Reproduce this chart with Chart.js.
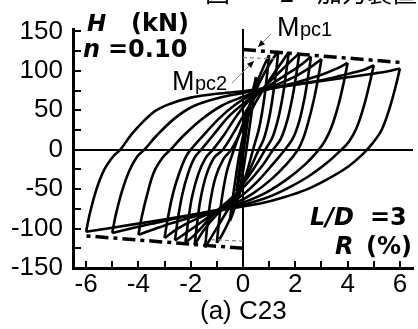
<!DOCTYPE html>
<html>
<head>
<meta charset="utf-8">
<script src="https://cdn.jsdelivr.net/npm/chart.js@4.4.1/dist/chart.umd.min.js"></script>
<style>
  html, body { margin: 0; padding: 0; background: #fff; overflow: hidden; }
  #wrap { width: 418px; height: 329px; position: relative; }
</style>
</head>
<body>
<div id="wrap"><canvas id="c" width="418" height="329"></canvas></div>
<script>
// Tick values
const xTicks = [-6, -4, -2, 0, 2, 4, 6];
const xTickMarks = [-6, -5, -4, -3, -2, -1, 0, 1, 2, 3, 4, 5, 6];
const yTicks = [-150, -100, -50, 0, 50, 100, 150];
const yTickMarks = [-150, -125, -100, -75, -50, -25, 0, 25, 50, 75, 100, 125, 150];

// Hysteresis history, drift R (%) vs shear H (kN), one branch per half cycle
const up1 = [[0,0],[0.1,25],[0.25,55]];
const down1 = [[0.25,55],[0.16,32],[0.05,5],[-0.08,-25],[-0.18,-43],[-0.25,-53]];
const up2 = [[-0.25,-53],[-0.16,-30],[-0.05,-4],[0.1,28],[0.25,55],[0.4,78],[0.5,92]];
const down2 = [[0.5,92],[0.42,70],[0.3,40],[0.15,5],[0,-28],[-0.2,-60],[-0.38,-80],[-0.5,-90]];
const up3 = [[-0.5,-90],[-0.42,-68],[-0.3,-40],[-0.15,-8],[0.05,25],[0.3,60],[0.55,86],[0.8,106],[1.0,120]];
const down3 = [[1.0,120],[0.92,95],[0.8,62],[0.62,28],[0.4,2],[0.15,-28],[-0.15,-58],[-0.5,-88],[-0.8,-108],[-1.0,-118]];
const up4 = [[-1.0,-118],[-0.92,-92],[-0.8,-60],[-0.62,-28],[-0.4,-5],[-0.2,14],[0.1,42],[0.45,72],[0.8,96],[1.1,113],[1.35,125]];
const down4 = [[1.35,125],[1.27,100],[1.15,70],[1.0,40],[0.8,14],[0.6,0],[0.25,-26],[-0.2,-55],[-0.65,-80],[-1.05,-102],[-1.45,-124]];
const up5 = [[-1.45,-124],[-1.37,-98],[-1.25,-66],[-1.05,-35],[-0.75,-12],[-0.45,0],[-0.05,25],[0.4,55],[0.85,80],[1.25,100],[1.55,114],[1.75,124]];
const down5 = [[1.75,124],[1.66,100],[1.53,70],[1.35,40],[1.12,15],[0.85,0],[0.45,-22],[-0.05,-46],[-0.55,-68],[-1.05,-84],[-1.5,-102],[-1.85,-121]];
const up6 = [[-1.85,-121],[-1.76,-95],[-1.62,-62],[-1.4,-32],[-1.1,-10],[-0.77,0],[-0.35,22],[0.1,48],[0.5,68],[0.95,84],[1.45,100],[1.85,113],[2.15,122]];
const down6 = [[2.15,122],[2.05,98],[1.9,68],[1.7,38],[1.45,14],[1.15,0],[0.7,-22],[0.1,-45],[-0.5,-63],[-0.95,-76],[-1.4,-92],[-1.85,-108],[-2.2,-118]];
const up7 = [[-2.2,-118],[-2.1,-92],[-1.95,-60],[-1.7,-30],[-1.42,-10],[-1.15,0],[-0.7,20],[-0.2,45],[0.4,68],[0.95,80],[1.55,93],[2.15,106],[2.6,118]];
const down7 = [[2.6,118],[2.5,95],[2.35,65],[2.15,36],[1.9,14],[1.6,0],[1.1,-20],[0.5,-42],[-0.2,-62],[-0.9,-76],[-1.6,-92],[-2.2,-106],[-2.6,-115]];
const up8 = [[-2.6,-115],[-2.5,-90],[-2.33,-58],[-2.1,-30],[-1.85,-10],[-1.6,0],[-1.15,18],[-0.55,42],[0,58],[0.5,70],[1.2,81],[2,93],[2.6,105],[3,115]];
const down8 = [[3,115],[2.88,92],[2.7,62],[2.48,33],[2.3,14],[2.1,0],[1.7,-17],[1.1,-37],[0.4,-55],[-0.3,-68],[-0.95,-77],[-1.8,-88],[-2.5,-100],[-3,-112]];
const up9 = [[-3,-112],[-2.88,-88],[-2.68,-56],[-2.42,-28],[-2.2,-10],[-2.0,0],[-1.55,17],[-0.9,40],[-0.3,57],[0.3,69],[1,77],[2,85],[3,95],[3.6,103],[4,110]];
const down9 = [[4,110],[3.87,88],[3.66,58],[3.4,30],[3.15,12],[2.9,0],[2.4,-18],[1.7,-37],[0.9,-54],[0,-67],[-0.9,-76],[-2,-86],[-3,-96],[-4,-108]];
const up10 = [[-4,-108],[-3.87,-85],[-3.65,-55],[-3.4,-28],[-3.05,-9],[-2.77,0],[-2.3,17],[-1.6,38],[-0.8,56],[0,67],[0.6,74],[1.5,80],[3,88],[4,96],[4.6,101],[5,107]];
const down10 = [[5,107],[4.85,85],[4.62,55],[4.35,28],[4.05,10],[3.7,-2],[3.2,-17],[2.5,-34],[1.7,-49],[0.9,-61],[0,-70],[-0.9,-76],[-2,-83],[-3.5,-94],[-5,-105.5]];
const up11 = [[-5,-105.5],[-4.86,-82],[-4.62,-52],[-4.35,-27],[-4.05,-9],[-3.77,0],[-3.3,18],[-2.6,40],[-1.9,55],[-1,65],[0,72],[0.6,76],[1.5,80],[3,87],[4.5,94],[5.5,99],[6,103]];
const down11 = [[6,103],[5.85,82],[5.6,52],[5.3,25],[4.95,8],[4.6,-5],[4.0,-22],[3.2,-38],[2.4,-51],[1.5,-61],[0.7,-68],[0,-72],[-0.9,-77],[-2,-83],[-3.5,-91],[-5,-99],[-6,-104]];
const upLast = [[-6,-104],[-5.85,-80],[-5.6,-50],[-5.3,-25],[-4.95,-8],[-4.69,0],[-4.2,22],[-3.4,48],[-2.8,58],[-2,66],[-1,71],[0,74],[0.6,77],[1.2,79]];

// Calculated flexural strength lines
const mpc1Upper = [[0,127],[6.05,110.5]];
const mpc1Lower = [[0,-125],[-6.1,-109]];
const mpc2Upper = [[0,117],[1.3,115]];
const mpc2Lower = [[0,-116],[-1.2,-114]];

const branches = [up1, down1, up2, down2, up3, down3, up4, down4, up5, down5,
  up6, down6, up7, down7, up8, down8, up9, down9, up10, down10, up11, down11, upLast];

const toXY = arr => arr.map(([x, y]) => ({ x, y }));

const datasets = [];
[mpc2Upper, mpc2Lower].forEach(d => datasets.push({
  data: toXY(d), showLine: true, borderColor: '#8a8a8a', borderWidth: 1.2,
  borderDash: [4, 3], pointRadius: 0, tension: 0, fill: false
}));
branches.forEach(d => datasets.push({
  data: toXY(d), showLine: true, borderColor: '#000', borderWidth: 2.6,
  pointRadius: 0, tension: 0.35, fill: false
}));
[mpc1Upper, mpc1Lower].forEach(d => datasets.push({
  data: toXY(d), showLine: true, borderColor: '#000', borderWidth: 3.5,
  borderDash: [13, 5, 4, 5], pointRadius: 0, tension: 0, fill: false
}));

function arrow(ctx, x0, y0, x1, y1) {
  ctx.save();
  ctx.strokeStyle = '#8a8a8a';
  ctx.lineWidth = 1;
  ctx.beginPath(); ctx.moveTo(x0, y0); ctx.lineTo(x1, y1); ctx.stroke();
  const ang = Math.atan2(y1 - y0, x1 - x0);
  const L = 7, W = 3;
  ctx.fillStyle = '#000';
  ctx.beginPath();
  ctx.moveTo(x1, y1);
  ctx.lineTo(x1 - L * Math.cos(ang) + W * Math.sin(ang), y1 - L * Math.sin(ang) - W * Math.cos(ang));
  ctx.lineTo(x1 - L * Math.cos(ang) - W * Math.sin(ang), y1 - L * Math.sin(ang) + W * Math.cos(ang));
  ctx.closePath(); ctx.fill();
  ctx.restore();
}

const decor = {
  id: 'decor',
  afterDraw(chart) {
    const { ctx, chartArea: a, scales: { x, y } } = chart;
    ctx.save();
    // inward tick marks
    ctx.strokeStyle = '#000';
    ctx.lineWidth = 2;
    xTickMarks.forEach(v => {
      const px = Math.round(x.getPixelForValue(v));
      ctx.beginPath(); ctx.moveTo(px, a.bottom); ctx.lineTo(px, a.bottom - 7); ctx.stroke();
    });
    yTickMarks.forEach(v => {
      const py = Math.round(y.getPixelForValue(v));
      ctx.beginPath(); ctx.moveTo(a.left, py); ctx.lineTo(a.left + 8, py); ctx.stroke();
    });

    ctx.fillStyle = '#000';
    ctx.textBaseline = 'alphabetic';
    ctx.textAlign = 'left';

    // figure caption running above the plot
    ctx.font = '25px "Noto Sans CJK JP"';
    ctx.textBaseline = 'ideographic';
    ctx.fillText('図', 205, 5);
    ctx.fillText('−', 245, 5);
    ctx.fillText('2', 280, 5);
    ctx.fillText('加力装置', 317, 5);
    ctx.textBaseline = 'alphabetic';

    // axis titles and test parameters
    ctx.font = 'italic bold 23px "DejaVu Sans"';
    ctx.fillText('H', 87, 31);
    ctx.font = 'bold 24px "DejaVu Sans"';
    ctx.fillText('(kN)', 131, 31);
    ctx.font = 'italic bold 24px "DejaVu Sans"';
    ctx.fillText('n', 83, 57);
    ctx.font = 'bold 24px "DejaVu Sans"';
    ctx.fillText('=0.10', 108, 57);

    ctx.font = 'italic bold 24px "DejaVu Sans"';
    ctx.fillText('L/D', 310, 225);
    ctx.font = 'bold 24px "DejaVu Sans"';
    ctx.fillText('=3', 370, 225);
    ctx.font = 'italic bold 24px "DejaVu Sans"';
    ctx.fillText('R', 335, 254);
    ctx.font = 'bold 24px "DejaVu Sans"';
    ctx.fillText('(%)', 366, 254);

    // strength labels
    ctx.font = '27px "Liberation Sans"';
    ctx.fillText('M', 277, 36);
    ctx.fillText('M', 172, 90);
    ctx.font = '20px "Liberation Sans"';
    ctx.fillText('pc1', 300, 36);
    ctx.fillText('pc2', 195, 90);
    arrow(ctx, 271, 34, 258, 47);
    arrow(ctx, 232, 83, 254, 61);

    // specimen caption
    ctx.font = '26px "Liberation Sans"';
    ctx.fillText('(a) C23', 200, 319);
    ctx.restore();
  }
};

const tickFont = { family: '"Liberation Sans", Arial, sans-serif', size: 26 };
const zeroLine = c => (c.tick && c.tick.value === 0) ? '#000' : 'rgba(0,0,0,0)';

new Chart(document.getElementById('c'), {
  type: 'scatter',
  data: { datasets },
  options: {
    responsive: false,
    animation: false,
    devicePixelRatio: 1,
    layout: { padding: { left: 0, right: 5, top: 29, bottom: 0 } },
    plugins: { legend: { display: false }, tooltip: { enabled: false } },
    scales: {
      x: {
        type: 'linear', min: -6.5, max: 6.5,
        afterFit(s) { s.height = 61; },
        afterBuildTicks(s) { s.ticks = xTicks.map(v => ({ value: v })); },
        grid: { drawTicks: false, lineWidth: 2, color: zeroLine },
        border: { display: true, width: 3, color: '#000' },
        ticks: { padding: 1, font: tickFont, color: '#000', maxRotation: 0, autoSkip: false }
      },
      y: {
        type: 'linear', min: -150, max: 153,
        afterFit(s) { s.width = 73; },
        afterBuildTicks(s) { s.ticks = yTicks.map(v => ({ value: v })); },
        grid: { drawTicks: false, lineWidth: 2, color: zeroLine },
        border: { display: true, width: 3, color: '#000' },
        ticks: { padding: 10, font: tickFont, color: '#000', autoSkip: false }
      }
    }
  },
  plugins: [decor]
});
</script>
</body>
</html>
